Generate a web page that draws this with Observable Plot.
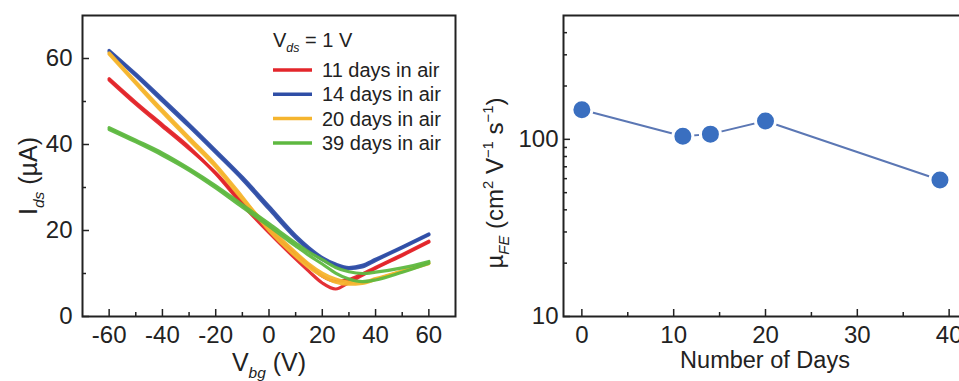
<!DOCTYPE html>
<html>
<head>
<meta charset="utf-8">
<script src="https://cdn.jsdelivr.net/npm/d3@7"></script>
<script src="https://cdn.jsdelivr.net/npm/@observablehq/plot@0.6"></script>
<style>
  html, body { margin: 0; padding: 0; background: #fff; overflow: hidden; }
  #wrap { position: relative; width: 959px; height: 381px; overflow: hidden; }
  #wrap svg { position: absolute; top: 0; }
</style>
</head>
<body>
<div id="wrap"></div>
<script>
// Transfer curves: back-gate sweep (V) and drain current (µA) for each exposure time
const vbg = [-60, -50, -40, -30, -20, -10, 0, 10, 15, 20, 25, 30, 35, 40, 50, 60];

const seriesLabels = ["11 days in air", "14 days in air", "20 days in air", "39 days in air"];
const seriesColors = ["#e3262b", "#2f4ea6", "#f5b52e", "#5eb840"];

// forward and reverse sweeps
const ids11Fwd = [55.3, 49.8, 44.6, 39.4, 33.2, 26.0, 19.5, 13.4, 10.5, 7.8, 6.4, 7.9, 9.6, 11.2, 14.2, 17.3];
const ids11Rev = [55.0, 49.4, 44.2, 39.0, 33.4, 26.6, 20.4, 14.6, 11.9, 9.4, 8.2, 8.6, 9.9, 11.4, 14.4, 17.5];
const ids14Fwd = [61.9, 56.4, 50.6, 44.7, 38.6, 32.4, 25.6, 18.8, 16.0, 13.7, 12.2, 11.4, 11.9, 13.3, 16.2, 19.2];
const ids14Rev = [61.6, 56.0, 50.1, 44.2, 38.1, 31.9, 25.0, 18.3, 15.5, 13.2, 11.8, 11.1, 11.5, 13.0, 16.0, 19.0];
const ids20Fwd = [61.3, 54.6, 48.0, 41.6, 35.3, 27.8, 20.0, 14.0, 11.4, 9.4, 8.0, 7.5, 7.7, 8.6, 10.5, 12.3];
const ids20Rev = [61.0, 54.2, 47.5, 41.1, 34.8, 27.3, 20.8, 14.9, 12.2, 10.1, 8.7, 8.0, 8.0, 8.8, 10.6, 12.5];
const ids39Fwd = [43.9, 41.0, 38.0, 34.4, 30.4, 26.0, 21.6, 17.1, 15.0, 13.2, 11.4, 10.4, 10.0, 10.3, 11.3, 12.8];
const ids39Rev = [43.5, 40.6, 37.5, 34.0, 29.9, 25.4, 21.0, 16.4, 14.2, 12.2, 10.1, 8.7, 8.1, 8.5, 10.3, 12.4];

const vbgTicks = [-60, -40, -20, 0, 20, 40, 60];
const vbgMinor = [-50, -30, -10, 10, 30, 50];
const idsTicks = [0, 20, 40, 60];
const idsMinor = [10, 30, 50];

// Field-effect mobility versus time in air
const days = [0, 11, 14, 20, 39];
const mobility = [147, 104, 107, 127, 59];
const dayTicks = [0, 10, 20, 30, 40];
const dayMinor = [5, 15, 25, 35];
const muTicks = [10, 100];
const muMinor = [20, 30, 40, 50, 60, 70, 80, 90, 200, 300, 400];

const FONT = "'Liberation Sans', Arial, Helvetica, sans-serif";
const INK = "#222";

const sweeps = [
  [ids11Fwd, ids11Rev], [ids14Fwd, ids14Rev], [ids20Fwd, ids20Rev], [ids39Fwd, ids39Rev]
];
const curves = [];
sweeps.forEach((pair, s) => pair.forEach((vals, k) => vals.forEach((c, i) =>
  curves.push({series: seriesLabels[s], key: `${s}-${k}`, v: vbg[i], ids: c}))));

const mobilityRows = days.map((d, i) => ({day: d, mu: mobility[i]}));

const H = 381, MT = 15, MB = 65, FH = H - MT - MB;

// inward ticks along the bottom and left edges of the frame
const inX = (ticks, len) => Plot.tickX(ticks, {x: d => d, insetTop: FH - len, stroke: INK, strokeWidth: 1.5});
const inY = (ticks, len, fw) => Plot.tickY(ticks, {y: d => d, insetRight: fw - len, stroke: INK, strokeWidth: 1.5});
const labX = (ticks) => Plot.axisX({ticks, tickSize: 0, tickPadding: 9, tickFormat: d => String(d), label: null});
const labY = (ticks, pad) => Plot.axisY({ticks, tickSize: 0, tickPadding: pad, tickFormat: d => String(d), label: null});

const wrap = document.getElementById("wrap");

// Left panel: Ids vs Vbg
const LW = 480, LML = 82, LMR = 25, LFW = LW - LML - LMR;
const left = Plot.plot({
  width: LW, height: H,
  marginLeft: LML, marginRight: LMR, marginTop: MT, marginBottom: MB,
  style: {fontFamily: FONT, fontSize: "24px", color: INK, background: "transparent", overflow: "visible"},
  x: {domain: [-70, 70]},
  y: {domain: [0, 70]},
  color: {domain: seriesLabels, range: seriesColors},
  marks: [
    Plot.line(curves, {x: "v", y: "ids", z: "key", stroke: "series", strokeWidth: 3.2, curve: "monotone-x", strokeOpacity: 0.95}),
    inX(vbgTicks, 7), inX(vbgMinor, 4), labX(vbgTicks),
    inY(idsTicks, 7, LFW), inY(idsMinor, 4, LFW), labY(idsTicks, 10),
    Plot.frame({stroke: INK, strokeWidth: 2})
  ]
});
left.style.left = "0px";
wrap.appendChild(left);

// Right panel: mobility vs days (log scale)
const RW = 500, RML = 83, RMR = 13, RFW = RW - RML - RMR;
const right = Plot.plot({
  width: RW, height: H,
  marginLeft: RML, marginRight: RMR, marginTop: MT, marginBottom: MB,
  style: {fontFamily: FONT, fontSize: "24px", color: INK, background: "transparent", overflow: "visible"},
  x: {domain: [-2, 42]},
  y: {type: "log", domain: [10, 500]},
  marks: [
    Plot.line(mobilityRows, {x: "day", y: "mu", stroke: "#5b77b4", strokeWidth: 2}),
    Plot.dot(mobilityRows, {x: "day", y: "mu", r: 10, fill: "#3a6fc0", stroke: "#fff", strokeWidth: 3}),
    inX(dayTicks, 7), inX(dayMinor, 4), labX(dayTicks),
    inY(muTicks, 7, RFW), inY(muMinor, 4, RFW), labY(muTicks, 5),
    Plot.frame({stroke: INK, strokeWidth: 2})
  ]
});
right.style.left = "480px";
wrap.appendChild(right);

// Text with sub/superscripts
function addText(svg, attrs, parts, size) {
  const t = d3.select(svg).append("text")
    .attr("font-family", FONT).attr("font-size", size).attr("fill", INK)
    .attr("text-anchor", "start");
  Object.entries(attrs).forEach(([k, v]) => t.attr(k, v));
  let shift = 0;
  parts.forEach(p => {
    const ts = t.append("tspan").text(p.t);
    const target = p.sub ? 0.26 * size : p.sup ? -0.42 * size : 0;
    ts.attr("dy", target - shift);
    shift = target;
    if (p.sub || p.sup) ts.attr("font-size", size * 0.62);
    if (p.it) ts.attr("font-style", "italic");
  });
  return t;
}

addText(left, {x: 269, y: 371, "text-anchor": "middle"},
  [{t: "V"}, {t: "bg", sub: true, it: true}, {t: " (V)"}], 25);
addText(left, {transform: "translate(37,176) rotate(-90)", "text-anchor": "middle"},
  [{t: "I"}, {t: "ds", sub: true, it: true}, {t: " (µA)"}], 25);
addText(right, {x: 285, y: 368, "text-anchor": "middle"},
  [{t: "Number of Days"}], 23.5);
addText(right, {transform: "translate(23,183) rotate(-90)", "text-anchor": "middle"},
  [{t: "µ"}, {t: "FE", sub: true, it: true}, {t: " (cm"}, {t: "2", sup: true},
   {t: " V"}, {t: "−1", sup: true}, {t: " s"}, {t: "−1", sup: true}, {t: ")"}], 24);

// Legend
addText(left, {x: 273, y: 47}, [{t: "V"}, {t: "ds", sub: true, it: true}, {t: " = 1 V"}], 20);
const lg = d3.select(left).append("g");
seriesLabels.forEach((label, i) => {
  const y = 70 + i * 24.3;
  lg.append("line").attr("x1", 273).attr("x2", 312).attr("y1", y).attr("y2", y)
    .attr("stroke", seriesColors[i]).attr("stroke-width", 3.5);
  lg.append("text").attr("x", 322).attr("y", y + 7).attr("text-anchor", "start")
    .attr("font-family", FONT).attr("font-size", 20).attr("fill", INK).text(label);
});
</script>
</body>
</html>
